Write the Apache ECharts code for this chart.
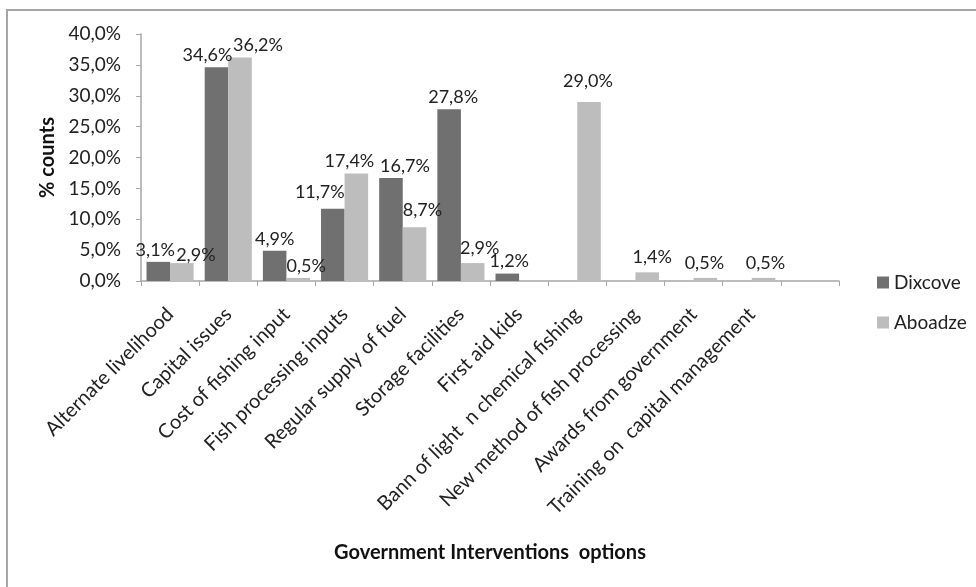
<!DOCTYPE html>
<html>
<head>
<meta charset="utf-8">
<script src="https://cdn.jsdelivr.net/npm/echarts@6/dist/echarts.min.js"></script>
<style>
html,body{margin:0;padding:0;background:#fff;}
#chart{width:976px;height:587px;}
</style>
</head>
<body>
<div id="chart"></div>
<script>
const categories = [
  "Alternate livelihood",
  "Capital issues",
  "Cost of fishing input",
  "Fish processing inputs",
  "Regular supply of fuel",
  "Storage facilities",
  "First aid kids",
  "Bann of light  n chemical fishing",
  "New method of fish processing",
  "Awards from government",
  "Training on  capital management",
  ""
];
const dixcove = [3.1, 34.6, 4.9, 11.7, 16.7, 27.8, 1.2, null, null, null, null, null];
const aboadze = [2.9, 36.2, 0.5, 17.4, 8.7, 2.9, null, 29.0, 1.4, 0.5, 0.5, null];
const yTicks = [0, 5, 10, 15, 20, 25, 30, 35, 40];

// label nudges (pixels) to mimic the reference's hand-placed labels
const dixOffsets = [[-3,0],[-9,0],[0,0],[-13,-5],[14,0],[4,0],[2,0],[0,0],[0,0],[0,0],[0,0],[0,0]];
const aboOffsets = [[14,4],[18,0],[8,0],[-7,0],[8,-5],[7,-3],[0,0],[-1,-9],[5,-3],[-1,-3],[2,-3],[0,0]];

const FONT = "Lato";
const fmt = v => v.toFixed(1).replace('.', ',') + '%';

function buildData(vals, offs) {
  return vals.map((v, i) => ({
    value: v,
    label: { offset: offs[i] }
  }));
}

const chart = echarts.init(document.getElementById('chart'), null, {renderer: 'canvas'});
chart.setOption({
  animation: false,
  backgroundColor: '#ffffff',
  textStyle: { fontFamily: FONT },
  graphic: [
    { type: 'line', shape: { x1: 7, y1: 10, x2: 7, y2: 587 }, style: { stroke: '#a6a6a6', lineWidth: 2 } },
    { type: 'line', shape: { x1: 6, y1: 10, x2: 976, y2: 10 }, style: { stroke: '#a6a6a6', lineWidth: 2 } }
  ],
  grid: { left: 141, right: 137, top: 34, bottom: 306, containLabel: false },
  legend: {
    orient: 'vertical',
    left: 872,
    top: 268,
    itemWidth: 12,
    itemHeight: 12,
    itemGap: 21,
    icon: 'rect',
    textStyle: { fontFamily: FONT, fontSize: 19, color: '#222' },
    data: ['Dixcove', 'Aboadze']
  },
  xAxis: {
    type: 'category',
    data: categories,
    name: 'Government Interventions  options',
    nameLocation: 'middle',
    nameGap: 262,
    nameTextStyle: { fontFamily: FONT, fontSize: 20, fontWeight: 'bold', color: '#111' },
    axisLine: { lineStyle: { color: '#a6a6a6', width: 1.5 } },
    axisTick: { show: true, alignWithLabel: false, length: 5, lineStyle: { color: '#a6a6a6' } },
    axisLabel: { rotate: 45, interval: 0, fontFamily: FONT, fontSize: 20, color: '#222', margin: 30 }
  },
  yAxis: {
    type: 'value',
    min: 0,
    max: 40,
    interval: 5,
    name: '% counts',
    nameLocation: 'middle',
    nameGap: 82,
    nameRotate: 90,
    nameTextStyle: { fontFamily: FONT, fontSize: 20, fontWeight: 'bold', color: '#111' },
    axisLine: { show: true, lineStyle: { color: '#a6a6a6', width: 1.5 } },
    axisTick: { show: true, inside: false, length: 5, lineStyle: { color: '#a6a6a6' } },
    splitLine: { show: false },
    axisLabel: {
      fontFamily: FONT, fontSize: 19, color: '#222', margin: 20,
      formatter: v => yTicks.includes(v) ? fmt(v) : ''
    }
  },
  series: [
    {
      name: 'Dixcove',
      type: 'bar',
      data: buildData(dixcove, dixOffsets),
      barGap: '0%',
      barCategoryGap: '19%',
      itemStyle: { color: '#707070' },
      label: { show: true, position: 'top', distance: 3, fontFamily: FONT, fontSize: 18, color: '#222',
               formatter: p => p.value == null ? '' : fmt(p.value) }
    },
    {
      name: 'Aboadze',
      type: 'bar',
      data: buildData(aboadze, aboOffsets),
      barGap: '0%',
      barCategoryGap: '19%',
      itemStyle: { color: '#bdbdbd' },
      label: { show: true, position: 'top', distance: 3, fontFamily: FONT, fontSize: 18, color: '#222',
               formatter: p => p.value == null ? '' : fmt(p.value) }
    }
  ]
});
</script>
</body>
</html>
